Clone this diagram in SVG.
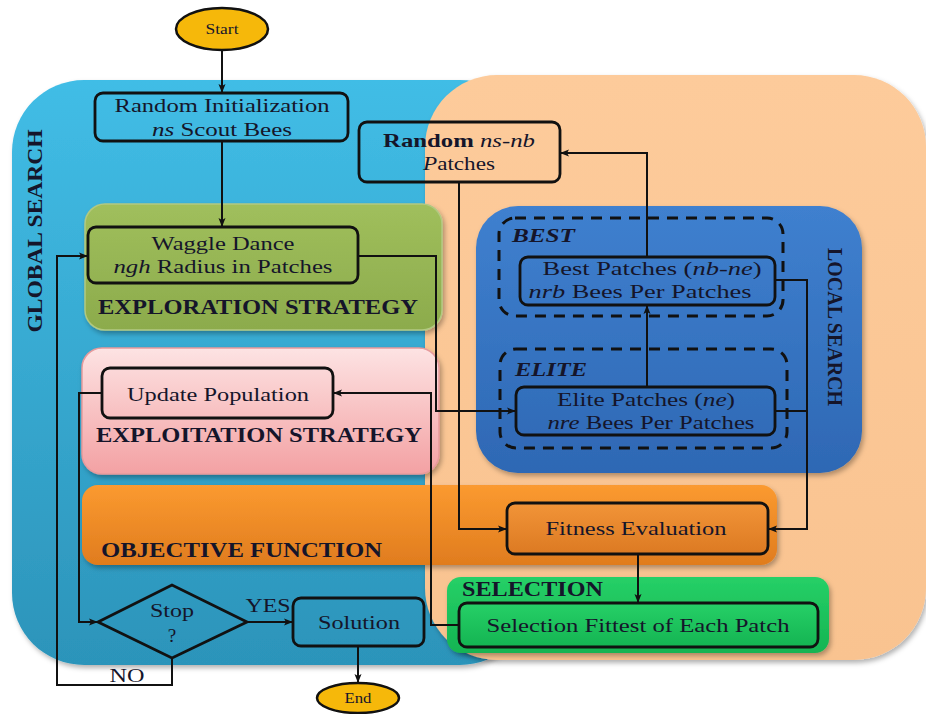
<svg xmlns="http://www.w3.org/2000/svg" width="926" height="714" viewBox="0 0 926 714">
<defs>
<style>
text{font-family:"Liberation Serif","Times New Roman",serif;fill:#15152a;}
.t{font-size:19px;text-anchor:middle;}
.h{font-size:20px;font-weight:bold;}
.box{fill:none;stroke:#111;stroke-width:2.8;}
.dash{fill:none;stroke:#111;stroke-width:3;stroke-dasharray:11 8;}
.c{fill:none;stroke:#111;stroke-width:2;}
.ca{fill:none;stroke:#111;stroke-width:2;marker-end:url(#ah);}
</style>
<marker id="ah" markerUnits="userSpaceOnUse" markerWidth="10" markerHeight="8" refX="9" refY="4" orient="auto">
<path d="M0,0.5 L9,4 L0,7.5 L2,4 z" fill="#111"/>
</marker>
<filter id="sh" x="-10%" y="-10%" width="120%" height="125%">
<feDropShadow dx="2" dy="3" stdDeviation="2.5" flood-color="#000" flood-opacity="0.3"/>
</filter>
<linearGradient id="gBlue" x1="0" y1="0" x2="0" y2="1"><stop offset="0" stop-color="#41bde6"/><stop offset="1" stop-color="#2c94ba"/></linearGradient>
<linearGradient id="gPeach" x1="0" y1="0" x2="0" y2="1"><stop offset="0" stop-color="#fdcb9b"/><stop offset="1" stop-color="#f9c390"/></linearGradient>
<linearGradient id="gGreen" x1="0" y1="0" x2="0" y2="1"><stop offset="0" stop-color="#a0bf5c"/><stop offset="1" stop-color="#8cab4c"/></linearGradient>
<linearGradient id="gPink" x1="0" y1="0" x2="0" y2="1"><stop offset="0" stop-color="#fde3e3"/><stop offset="1" stop-color="#f3a1a3"/></linearGradient>
<linearGradient id="gOrange" x1="0" y1="0" x2="0" y2="1"><stop offset="0" stop-color="#fb9a30"/><stop offset="1" stop-color="#e07c1e"/></linearGradient>
<linearGradient id="gFit" x1="0" y1="0" x2="0" y2="1"><stop offset="0" stop-color="#f29438"/><stop offset="1" stop-color="#dc7a22"/></linearGradient>
<linearGradient id="gLocal" x1="0" y1="0" x2="0" y2="1"><stop offset="0" stop-color="#3f80cf"/><stop offset="1" stop-color="#2e68b4"/></linearGradient>
<linearGradient id="gSel" x1="0" y1="0" x2="0" y2="1"><stop offset="0" stop-color="#26d067"/><stop offset="1" stop-color="#14b452"/></linearGradient>
</defs>

<g id="global-search">
<rect x="12" y="80" width="520" height="585" rx="72" fill="url(#gBlue)" filter="url(#sh)"/>
<text class="h" transform="translate(42,231) rotate(-90)" text-anchor="middle" font-size="19" textLength="203" lengthAdjust="spacingAndGlyphs">GLOBAL SEARCH</text>
</g>
<g id="local-area">
<rect x="425" y="75" width="501" height="585" rx="72" fill="url(#gPeach)" filter="url(#sh)"/>
</g>
<g id="exploration-strategy">
<rect x="85" y="204" width="357" height="126" rx="20" fill="url(#gGreen)" stroke="#b2c982" stroke-width="1.5" filter="url(#sh)"/>
<text class="h" x="258" y="314" text-anchor="middle" textLength="320" lengthAdjust="spacingAndGlyphs">EXPLORATION STRATEGY</text>
</g>
<g id="exploitation-strategy">
<rect x="82" y="348" width="357" height="126" rx="20" fill="url(#gPink)" stroke="#e79a9c" stroke-width="1.5" filter="url(#sh)"/>
<text class="h" x="259" y="442" text-anchor="middle" textLength="326" lengthAdjust="spacingAndGlyphs">EXPLOITATION STRATEGY</text>
</g>
<g id="objective-function">
<rect x="82" y="485" width="695" height="80" rx="16" fill="url(#gOrange)" filter="url(#sh)"/>
<text class="h" x="101" y="557" textLength="281" lengthAdjust="spacingAndGlyphs">OBJECTIVE FUNCTION</text>
</g>
<g id="local-search">
<rect x="476" y="206" width="386" height="267" rx="42" fill="url(#gLocal)" filter="url(#sh)"/>
<text class="h" transform="translate(828,327) rotate(90)" text-anchor="middle" font-size="19" textLength="158" lengthAdjust="spacingAndGlyphs">LOCAL SEARCH</text>
</g>
<g id="selection-panel">
<rect x="447" y="577" width="382" height="76" rx="14" fill="url(#gSel)" filter="url(#sh)"/>
<text class="h" x="462" y="596" textLength="141" lengthAdjust="spacingAndGlyphs">SELECTION</text>
</g>

<g id="best-group">
<rect class="dash" x="499" y="218" width="284" height="98" rx="16"/>
<text x="512" y="242" font-size="19" font-weight="bold" font-style="italic" textLength="63" lengthAdjust="spacingAndGlyphs">BEST</text>
</g>
<g id="elite-group">
<rect class="dash" x="500" y="349" width="287" height="99" rx="16"/>
<text x="515" y="376" font-size="19" font-weight="bold" font-style="italic" textLength="72" lengthAdjust="spacingAndGlyphs">ELITE</text>
</g>

<g id="connectors">
<path class="ca" d="M222,50 V93"/>
<path class="ca" d="M222,141 V227"/>
<path class="ca" d="M172,658 V685 H57 V256 H88"/>
<path class="ca" d="M358,256 H436 V411 H516"/>
<path class="ca" d="M459,182 V529 H507"/>
<path class="ca" d="M647,257 V153 H560"/>
<path class="ca" d="M647,387 V305"/>
<path class="ca" d="M775,280 H807 V529 H768"/>
<path class="c" d="M775,411 H807"/>
<path class="ca" d="M638,554 V603"/>
<path class="ca" d="M459,625 H431 V393 H333"/>
<path class="ca" d="M102,393 H79 V622 H98"/>
<path class="ca" d="M247,622 H293"/>
<path class="ca" d="M358,646 V683"/>
<text x="268" y="612" font-size="19" text-anchor="middle" textLength="45" lengthAdjust="spacingAndGlyphs">YES</text>
<text x="127" y="682" font-size="19" text-anchor="middle" textLength="35" lengthAdjust="spacingAndGlyphs">NO</text>
</g>

<g id="start">
<ellipse cx="222" cy="29" rx="46" ry="21" fill="#f6b80a" stroke="#111" stroke-width="2.5"/>
<text x="222" y="34" font-size="14" text-anchor="middle" textLength="33" lengthAdjust="spacingAndGlyphs">Start</text>
</g>
<g id="random-init">
<rect class="box" x="95" y="93" width="253" height="48" rx="8"/>
<text class="t" x="222" y="112" textLength="215" lengthAdjust="spacingAndGlyphs">Random Initialization</text>
<text class="t" x="222" y="136" textLength="140" lengthAdjust="spacingAndGlyphs"><tspan font-style="italic">ns</tspan> Scout Bees</text>
</g>
<g id="random-patches">
<rect class="box" x="359" y="122" width="201" height="60" rx="8"/>
<text class="t" x="459" y="147" textLength="152" lengthAdjust="spacingAndGlyphs"><tspan font-weight="bold">Random</tspan> <tspan font-style="italic">ns-nb</tspan></text>
<text class="t" x="459" y="170" textLength="72" lengthAdjust="spacingAndGlyphs"><tspan font-style="italic">P</tspan>atches</text>
</g>
<g id="waggle-dance">
<rect class="box" x="88" y="227" width="270" height="56" rx="8"/>
<text class="t" x="223" y="250" textLength="143" lengthAdjust="spacingAndGlyphs">Waggle Dance</text>
<text class="t" x="223" y="273" textLength="219" lengthAdjust="spacingAndGlyphs"><tspan font-style="italic">ngh</tspan> Radius in Patches</text>
</g>
<g id="update-population">
<rect class="box" x="102" y="368" width="231" height="50" rx="8"/>
<text class="t" x="218" y="401" textLength="182" lengthAdjust="spacingAndGlyphs">Update Population</text>
</g>
<g id="best-patches">
<rect class="box" x="520" y="257" width="255" height="48" rx="8"/>
<text class="t" x="652" y="275" textLength="219" lengthAdjust="spacingAndGlyphs">Best Patches (<tspan font-style="italic">nb-ne</tspan>)</text>
<text class="t" x="640" y="298" textLength="223" lengthAdjust="spacingAndGlyphs"><tspan font-style="italic">nrb</tspan> Bees Per Patches</text>
</g>
<g id="elite-patches">
<rect class="box" x="516" y="387" width="259" height="48" rx="8"/>
<text class="t" x="646" y="406" textLength="178" lengthAdjust="spacingAndGlyphs">Elite Patches (<tspan font-style="italic">ne</tspan>)</text>
<text class="t" x="651" y="429" textLength="207" lengthAdjust="spacingAndGlyphs"><tspan font-style="italic">nre</tspan> Bees Per Patches</text>
</g>
<g id="fitness-evaluation">
<rect x="507" y="503" width="261" height="51" rx="8" fill="url(#gFit)" stroke="#111" stroke-width="2.8"/>
<text class="t" x="636" y="535" textLength="181" lengthAdjust="spacingAndGlyphs">Fitness Evaluation</text>
</g>
<g id="selection-fittest">
<rect x="459" y="603" width="359" height="44" rx="8" fill="url(#gSel)" stroke="#111" stroke-width="2.8"/>
<text class="t" x="638" y="632" textLength="303" lengthAdjust="spacingAndGlyphs">Selection Fittest of Each Patch</text>
</g>
<g id="stop">
<path d="M98,622 L172,585 L247,622 L172,658 Z" fill="none" stroke="#111" stroke-width="2.8"/>
<text class="t" x="172" y="617" textLength="44" lengthAdjust="spacingAndGlyphs">Stop</text>
<text class="t" x="172" y="642">?</text>
</g>
<g id="solution">
<rect class="box" x="293" y="598" width="131" height="48" rx="8"/>
<text class="t" x="359" y="629" textLength="82" lengthAdjust="spacingAndGlyphs">Solution</text>
</g>
<g id="end">
<ellipse cx="358" cy="698" rx="41" ry="15" fill="#f6b80a" stroke="#111" stroke-width="2.5"/>
<text x="358" y="703" font-size="14" text-anchor="middle" textLength="27" lengthAdjust="spacingAndGlyphs">End</text>
</g>
</svg>
